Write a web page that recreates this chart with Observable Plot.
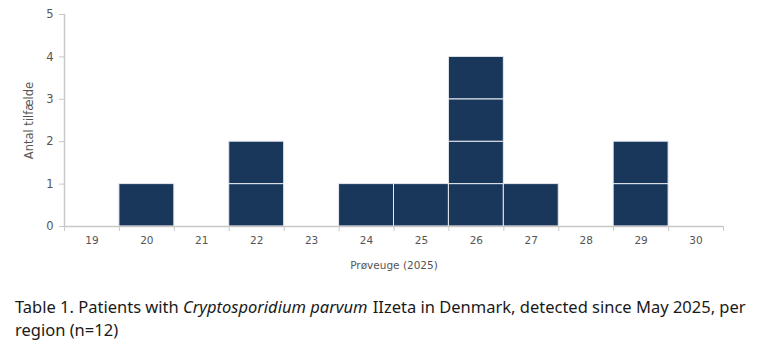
<!DOCTYPE html>
<html>
<head>
<meta charset="utf-8">
<script src="https://cdn.jsdelivr.net/npm/d3@7"></script>
<script src="https://cdn.jsdelivr.net/npm/@observablehq/plot@0.6"></script>
<style>
  body { margin: 0; background: #fff; }
  #chart svg { display: block; }
  #caption { font-family: "Noto Sans", sans-serif; font-size: 16.5px; color: #1a1a1a; margin: 10px 0 0 15px; width: 760px; line-height: 23px; }
  #caption i { padding-right: 1px; }
</style>
</head>
<body>
<div id="chart"></div>
<div id="caption">Table 1. Patients with <i>Cryptosporidium parvum</i> IIzeta in Denmark, detected since May 2025, per region (n=12)</div>
<script>
const weeks = [19, 20, 21, 22, 23, 24, 25, 26, 27, 28, 29, 30];
const cases = [0, 1, 0, 2, 0, 1, 1, 4, 1, 0, 2, 0];
const yTicks = [0, 1, 2, 3, 4, 5];

const rows = [];
weeks.forEach((w, i) => { for (let k = 0; k < cases[i]; k++) rows.push({week: w, n: 1}); });

const boundaries = weeks.map(w => w - 0.5).concat([weeks[weeks.length - 1] + 0.5]);
const font = "'DejaVu Sans', sans-serif";

const chart = Plot.plot({
  width: 778,
  height: 285,
  marginLeft: 64,
  marginRight: 55,
  marginTop: 14,
  marginBottom: 59,
  style: {fontFamily: font, fontSize: "10px", color: "#555"},
  x: {domain: [boundaries[0], boundaries[boundaries.length - 1]]},
  y: {domain: [0, 5]},
  marks: [
    Plot.rectY(rows, Plot.stackY({x1: d => d.week - 0.5, x2: d => d.week + 0.5, y: "n", fill: "#19365b", stroke: "#e6e9ee", strokeWidth: 1})),
    Plot.axisY({ticks: yTicks, tickFormat: d3.format("d"), tickSize: 5, tickPadding: 6, stroke: "#c8c8c8", label: "Antal tilfælde", labelAnchor: "center", labelArrow: "none", labelOffset: 40, fontSize: 11.5}),
    Plot.axisX({ticks: boundaries, tickFormat: () => "", tickSize: 5, stroke: "#c8c8c8", label: null}),
    Plot.axisX({ticks: weeks, tickFormat: d => String(d), tickSize: 0, tickPadding: 10, label: "Prøveuge (2025)", labelAnchor: "center", labelArrow: "none", labelOffset: 42, fontSize: 10.5}),
    Plot.ruleX([boundaries[0]], {stroke: "#c8c8c8", strokeWidth: 1.5}),
    Plot.ruleY([0], {stroke: "#c8c8c8", strokeWidth: 1.5})
  ]
});
document.getElementById("chart").appendChild(chart);
</script>
</body>
</html>
